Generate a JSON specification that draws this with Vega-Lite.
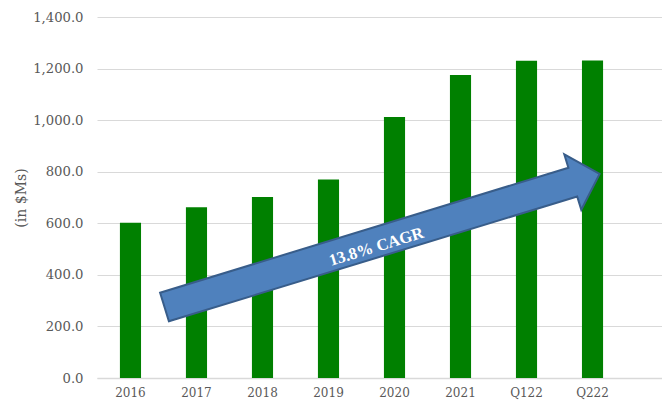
{
  "$schema": "https://vega.github.io/schema/vega-lite/v6.json",
  "autosize": {"type": "none"},
  "padding": {"left": 97, "top": 17, "right": 0, "bottom": 26},
  "width": 565,
  "height": 361,
  "background": "white",
  "config": {
    "view": {"stroke": null},
    "font": "DejaVu Serif"
  },
  "layer": [
    {
      "data": {
        "values": [
          {"period": "2016", "value": 602},
          {"period": "2017", "value": 662},
          {"period": "2018", "value": 702},
          {"period": "2019", "value": 770},
          {"period": "2020", "value": 1012},
          {"period": "2021", "value": 1175},
          {"period": "Q122", "value": 1230},
          {"period": "Q222", "value": 1231}
        ]
      },
      "mark": {"type": "bar", "color": "#008000"},
      "encoding": {
        "x": {
          "field": "period",
          "type": "nominal",
          "sort": null,
          "scale": {"paddingInner": 0.68, "paddingOuter": 0.62, "align": 0.28, "round": false},
          "axis": {
            "title": null,
            "labelAngle": 0,
            "labelFont": "DejaVu Serif",
            "labelFontSize": 12,
            "labelColor": "#595959",
            "labelPadding": 9,
            "ticks": false,
            "domainColor": "#d9d9d9",
            "domainWidth": 1.5
          }
        },
        "y": {
          "field": "value",
          "type": "quantitative",
          "scale": {"domain": [0, 1400], "nice": false},
          "axis": {
            "title": "(in $Ms)",
            "titleFont": "DejaVu Serif",
            "titleFontWeight": "normal",
            "titleFontSize": 14,
            "titleColor": "#595959",
            "titlePadding": 4,
            "values": [0, 200, 400, 600, 800, 1000, 1200, 1400],
            "format": ",.1f",
            "labelFont": "DejaVu Serif",
            "labelFontSize": 13.2,
            "labelColor": "#595959",
            "labelPadding": 14,
            "ticks": false,
            "domain": false,
            "gridColor": "#d9d9d9",
            "gridWidth": 1.2
          }
        }
      }
    },
    {
      "data": {"values": [{"label": "13.8% CAGR"}]},
      "mark": {
        "type": "point",
        "shape": "M-0.9024,0.3252L0.7308,-0.174L0.7472,-0.1208L0.8204,-0.264L0.6792,-0.3424L0.6956,-0.2888L-0.9376,0.2108Z",
        "size": 250000,
        "filled": true,
        "fill": "#4f81bd",
        "fillOpacity": 1,
        "opacity": 1,
        "stroke": "#385d8a",
        "strokeWidth": 2
      },
      "encoding": {
        "x": {"datum": "2020", "type": "nominal"},
        "y": {"datum": 535.2, "type": "quantitative"}
      }
    },
    {
      "data": {"values": [{"label": "13.8% CAGR"}]},
      "mark": {
        "type": "text",
        "font": "Liberation Serif",
        "fontWeight": "bold",
        "fontSize": 16.5,
        "color": "white",
        "angle": -17,
        "align": "center",
        "baseline": "middle",
        "dx": -19
      },
      "encoding": {
        "x": {"datum": "2020", "type": "nominal"},
        "y": {"datum": 530, "type": "quantitative"},
        "text": {"field": "label"}
      }
    }
  ]
}
